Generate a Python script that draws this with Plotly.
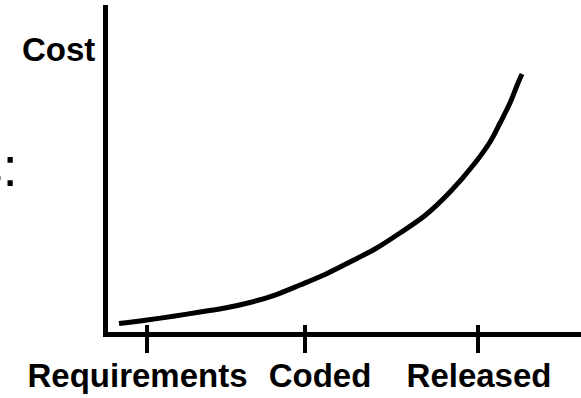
import plotly.graph_objects as go

# Development stages shown along the horizontal axis
stages = ["Requirements", "Coded", "Released"]
stage_ticks = [8.25, 41.65, 78.2]       # where each stage tick sits on the time axis
stage_label_pos = [6.24, 44.82, 78.44]  # centre of each stage caption

# Cost of fixing a defect over the life of the project (arbitrary units)
time_pts = [2.33, 8.25, 14.16, 19.45, 24.74, 30.02, 35.31, 40.59, 45.88, 51.16,
            56.45, 61.73, 67.02, 72.30, 77.59, 80.76, 82.88, 84.99, 86.68, 87.53]
cost_pts = [2.60, 3.67, 4.89, 6.12, 7.34, 9.02, 11.31, 14.37, 17.58, 21.41,
            25.38, 30.28, 35.63, 42.81, 51.68, 58.10, 63.91, 70.03, 76.15, 78.90]

LABEL_FONT = dict(family="Liberation Sans, Arial, sans-serif", size=33,
                  color="black", weight="bold")

fig = go.Figure()

fig.add_trace(go.Scatter(
    x=time_pts, y=cost_pts, mode="lines",
    line=dict(color="black", width=5, shape="spline", smoothing=0.9),
    hoverinfo="skip", showlegend=False,
))
# empty traces so the overlay axes get drawn
fig.add_trace(go.Scatter(x=[], y=[], xaxis="x2", showlegend=False))
fig.add_trace(go.Scatter(x=[], y=[], xaxis="x3", showlegend=False))

axis_common = dict(range=[0, 100], showgrid=False, zeroline=False, fixedrange=True)

fig.update_layout(
    width=581, height=398,
    margin=dict(l=108, r=0, t=5, b=66),
    paper_bgcolor="white", plot_bgcolor="white",
    xaxis=dict(**axis_common, showline=True, linewidth=5, linecolor="black",
               ticks="outside", ticklen=16, tickwidth=4, tickcolor="black",
               tickvals=stage_ticks, showticklabels=False),
    # short inner part of each tick so it crosses the axis line
    xaxis2=dict(**axis_common, overlaying="x", anchor="y", showline=False,
                ticks="inside", ticklen=7, tickwidth=4, tickcolor="black",
                tickvals=stage_ticks, showticklabels=False),
    # stage captions
    xaxis3=dict(**axis_common, overlaying="x", anchor="y", showline=False,
                ticks="", tickvals=stage_label_pos, ticktext=stages,
                tickfont=LABEL_FONT, ticklabelstandoff=21),
    yaxis=dict(range=[0, 100], showgrid=False, zeroline=False, fixedrange=True,
               showline=True, linewidth=5, linecolor="black",
               ticks="", showticklabels=False),
    annotations=[
        dict(text="Cost", xref="paper", yref="paper", x=0, y=0.8654,
             xanchor="right", yanchor="middle", xshift=-11, showarrow=False,
             font=LABEL_FONT),
        dict(text="s:", xref="paper", yref="paper", x=0, y=(332 - 167) / 327,
             xanchor="right", yanchor="middle", xshift=-88, showarrow=False,
             font=dict(family="Liberation Sans, Arial, sans-serif", size=55,
                       color="black")),
    ],
)

fig.write_html("out.html")
